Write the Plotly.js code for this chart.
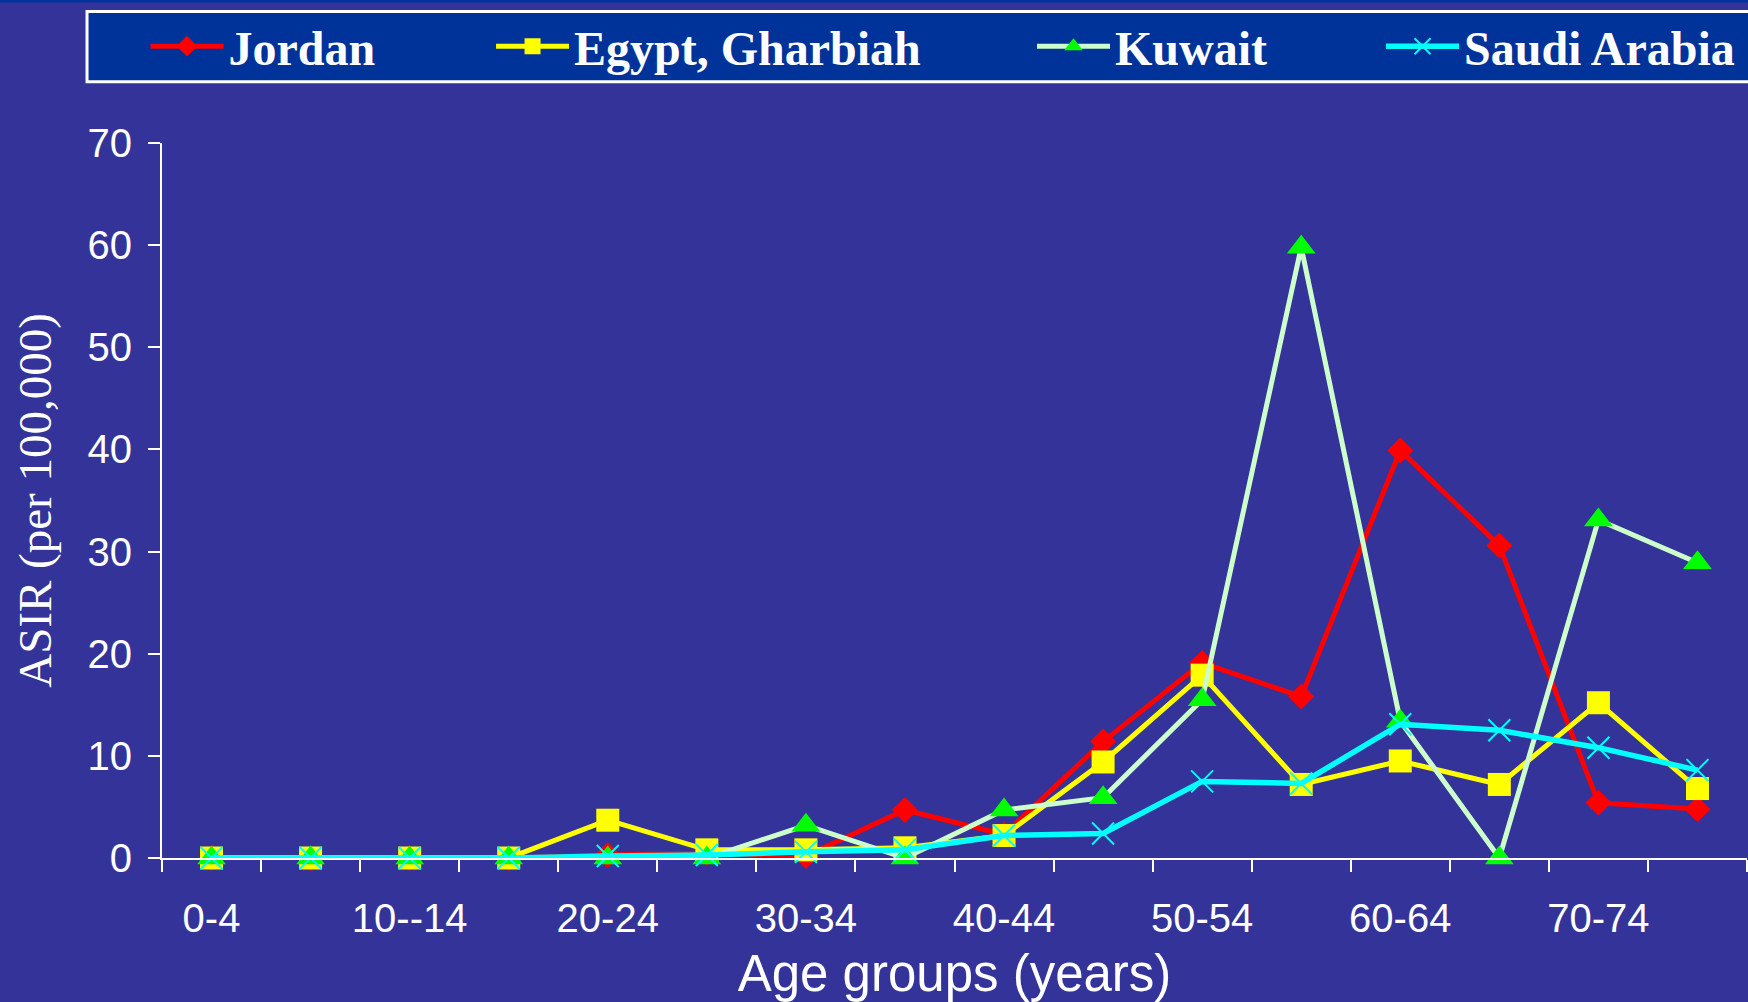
<!DOCTYPE html>
<html><head><meta charset="utf-8">
<script src="https://cdn.plot.ly/plotly-3.0.1.min.js"></script>
<style>html,body{margin:0;padding:0;background:#333399;} #chart{width:1748px;height:1002px;}</style>
</head><body><div id="chart"></div>
<script>
const ageGroups = ['0-4','5-9','10--14','15-19','20-24','25-29','30-34','35-39','40-44','45-49','50-54','55-59','60-64','65-69','70-74','75+'];
const tickLabels = ['0-4','','10--14','','20-24','','30-34','','40-44','','50-54','','60-64','','70-74',''];
const jordan = [0,0,0,0,0.3,0.5,0.2,4.7,2.3,11.4,19.1,15.8,39.9,30.6,5.4,4.8];
const egypt  = [0,0,0,0,3.7,0.8,0.8,1.0,2.2,9.4,17.9,7.2,9.5,7.2,15.2,6.8];
const kuwait = [0,0,0,0,0,0,3.2,0,4.7,5.9,15.5,59.8,13.4,0,33.1,28.9];
const saudi  = [0,0,0,0,0.2,0.3,0.6,0.8,2.2,2.4,7.5,7.3,13.1,12.5,10.8,8.6];
const seriesNames = ['Jordan','Egypt, Gharbiah','Kuwait','Saudi Arabia'];

const traces = [
  {x: ageGroups, y: jordan, name: seriesNames[0], legend:'legend', mode:'lines+markers', cliponaxis:false,
   line:{color:'#FF0000', width:5}, marker:{symbol:'diamond', size:20, color:'#FF0000'}},
  {x: ageGroups, y: egypt, name: seriesNames[1], legend:'legend2', mode:'lines+markers', cliponaxis:false,
   line:{color:'#FFFF00', width:5}, marker:{symbol:'square', size:23, color:'#FFFF00'}},
  {x: ageGroups, y: kuwait, name: seriesNames[2], legend:'legend3', mode:'lines+markers', cliponaxis:false,
   line:{color:'#CCFFCC', width:5}, marker:{symbol:'triangle-up', size:25, color:'#00FF00'}},
  {x: ageGroups, y: saudi, name: seriesNames[3], legend:'legend4', mode:'lines+markers', cliponaxis:false,
   line:{color:'#00FFFF', width:5.5}, marker:{symbol:'x-thin', size:22, color:'#00FFFF', line:{color:'#00FFFF', width:2}}}
];

const legendFont = {family:'Liberation Serif, Times New Roman, serif', size:48, color:'#FFFFFF', weight:'bold'};
function leg(x) {
  return {orientation:'h', x:x, xanchor:'left', y:1.135, yanchor:'middle', itemwidth:73,
    bgcolor:'rgba(0,0,0,0)', borderwidth:0, font:legendFont};
}

const layout = {
  width:1748, height:1002,
  paper_bgcolor:'#333399', plot_bgcolor:'#333399',
  margin:{l:162, r:1, t:143, b:144},
  showlegend:true,
  legend: leg(-0.0104),
  legend2: leg(0.2076),
  legend3: leg(0.5489),
  legend4: leg(0.7691),
  xaxis:{type:'category', categoryorder:'array', categoryarray:ageGroups, range:[-0.5,15.5],
    tickmode:'array', tickvals:ageGroups, ticktext:tickLabels, tickson:'boundaries', tickangle:0,
    ticks:'outside', ticklen:12, tickwidth:2, tickcolor:'#FFFFFF',
    showline:true, linecolor:'#FFFFFF', linewidth:2, showgrid:false, zeroline:false,
    ticklabelstandoff:24,
    tickfont:{family:'Liberation Sans, Arial, sans-serif', size:40, color:'#FFFFFF'},
    title:{text:'Age groups (years)', standoff:17,
      font:{family:'Liberation Sans, Arial, sans-serif', size:51, color:'#FFFFFF'}}},
  yaxis:{range:[0,70], tick0:0, dtick:10, ticks:'outside', ticklen:12, tickwidth:2, tickcolor:'#FFFFFF',
    showline:true, linecolor:'#FFFFFF', linewidth:2, showgrid:false, zeroline:false,
    ticklabelstandoff:8,
    tickfont:{family:'Liberation Sans, Arial, sans-serif', size:40, color:'#FFFFFF'},
    title:{text:'ASIR (per 100,000)', standoff:21,
      font:{family:'Liberation Serif, Times New Roman, serif', size:47, color:'#FFFFFF'}}},
  shapes:[
    {type:'rect', xref:'paper', yref:'paper', x0:-0.12, x1:1.01, y0:1.1966, y1:1.21, fillcolor:'#003399', line:{width:0}, layer:'below'},
    {type:'rect', xref:'paper', yref:'paper', x0:-0.0473, x1:1.01, y0:1.0855, y1:1.184, fillcolor:'#003399', line:{color:'#FFFFFF', width:3}, layer:'below'}
  ]
};

Plotly.newPlot('chart', traces, layout, {displayModeBar:false, staticPlot:true});
</script></body></html>
